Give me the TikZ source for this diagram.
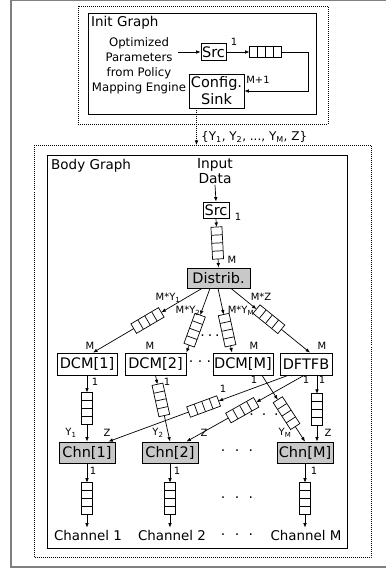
\documentclass[tikz,border=0pt]{standalone}
\usepackage{fontspec}
\setmainfont{DejaVu Sans}
\usetikzlibrary{calc,arrows.meta}
\definecolor{boxgray}{RGB}{200,200,200}
\definecolor{framegray}{RGB}{128,128,128}
\newcommand\fifo[4]{%
  \coordinate (qc) at ($(#1)!#3!(#2)$);
  \coordinate (qs) at ($(qc)!16pt!(#1)$);
  \coordinate (qe) at ($(qc)!16pt!(#2)$);
  \draw[qline] ($(qs)!5.5pt!90:(qe)$) -- ($(qs)!5.5pt!-90:(qe)$) -- ($(qe)!5.5pt!90:(qs)$) -- ($(qe)!5.5pt!-90:(qs)$) -- cycle;
  \foreach \t in {0.25,0.5,0.75}{
    \coordinate (qd) at ($(qs)!\t!(qe)$);
    \draw[qline] ($(qd)!5.5pt!90:(qe)$) -- ($(qd)!5.5pt!-90:(qe)$);
  }
  \draw[arr] (#1) -- (qs);
  \draw[#4] (qe) -- (#2);
}
\newcommand\tdots[1]{·\hspace{#1}·\hspace{#1}·}
\begin{document}
\begin{tikzpicture}[x=1pt,y=-1pt,
  box/.style={draw, line width=0.8pt, inner sep=0pt, font=\fontsize{14.5}{16}\selectfont},
  gbox/.style={box, fill=boxgray},
  arr/.style={-{Latex[length=4.5pt,width=3.6pt]}, line width=0.7pt},
  plain/.style={line width=0.7pt},
  qline/.style={line width=0.7pt, fill=white},
  lbl/.style={font=\fontsize{10}{11}\selectfont, inner sep=0pt},
  ttl/.style={font=\fontsize{13.5}{15}\selectfont, inner sep=0pt, anchor=west},
  dotbox/.style={line width=0.8pt, dash pattern=on 1pt off 1pt},
  graphbox/.style={line width=0.9pt},
  dts/.style={font=\fontsize{14}{15}\selectfont, inner sep=0pt}
]
\useasboundingbox (0,0) rectangle (385,569);
\fill[white] (0,0) rectangle (385,569);
% outer frame
\draw[framegray, line width=1.4pt] (11,0.7) rectangle (395,567);

% ---------- Init graph ----------
\draw[dotbox] (78,6) rectangle (328,124);
\draw[graphbox] (88,13) rectangle (316,114);
\node[ttl] (initt) at (91,23) {Init Graph};
\node[align=center, inner sep=0pt, font=\fontsize{11.7}{15}\selectfont] (opt) at (139,66)
  {Optimized\\Parameters\\from Policy\\Mapping Engine};
\node[box, minimum width=25pt, minimum height=17pt] (src1) at (213.5,52) {Src};
\node[box, minimum width=55pt, minimum height=34pt, align=center,
      font=\fontsize{14.5}{17}\selectfont] (cfg) at (216.5,91) {Config.\\Sink};
\coordinate (optout) at (178,52);
\draw[arr] (optout) -- (src1.west);
\coordinate (turn) at (308,52);
\fifo{src1.east}{turn}{0.48}{plain}
\draw[arr] (turn) |- (cfg.east);
\node[lbl] (l1a) at (234,42) {1};
\node[lbl] (lm1) at (258,80) {M+1};

% dotted parameter arrow
\coordinate (cfgout) at (196.5,108);
\coordinate (bodytop) at (196.5,145);
\draw[arr, dash pattern=on 1pt off 1pt] (cfgout) -- (bodytop);
\node[inner sep=0pt, anchor=west, font=\fontsize{12}{13}\selectfont] (params) at (201,137)
  {\{Y\textsubscript{1}, Y\textsubscript{2}, ..., Y\textsubscript{M}, Z\}};

% ---------- Body graph ----------
\draw[dotbox] (34,145.5) rectangle (371,557);
\draw[graphbox] (47,155) rectangle (347,548);
\node[ttl] (bodyt) at (51,166) {Body Graph};
\node[align=center, inner sep=1pt, font=\fontsize{13.8}{15}\selectfont] (indata) at (215,171) {Input\\Data};
\node[box, minimum width=26pt, minimum height=16pt] (src2) at (216,210) {Src};
\draw[arr] (indata.south) -- (src2.north);
\node[gbox, minimum width=63pt, minimum height=20pt] (dist) at (218.5,278) {Distrib.};
\fifo{src2.south}{dist.north}{0.5}{arr}
\node[lbl] (l1b) at (238,217) {1};
\node[lbl] (lmb) at (232,260) {M};

% second row
\node[box, minimum width=60pt, minimum height=22pt] (dcm1) at (87,364) {DCM[1]};
\node[box, minimum width=61pt, minimum height=22pt] (dcm2) at (155.5,364) {DCM[2]};
\node[box, minimum width=60pt, minimum height=22pt] (dcmm) at (243,364) {DCM[M]};
\node[box, minimum width=52pt, minimum height=22pt] (dft) at (306,364) {DFTFB};

\coordinate (d1) at ($(dist.south)+(-16.5,0)$);
\coordinate (d2) at ($(dist.south)+(-8.5,0)$);
\coordinate (d3) at ($(dist.south)+(-0.5,0)$);
\coordinate (d4) at ($(dist.south)+(12.5,0)$);
\coordinate (t1) at ($(dcm1.north)+(6,0)$);
\coordinate (t2) at ($(dcm2.north east)+(0,0)$);
\coordinate (t3) at ($(dcmm.north)+(-11,0)$);
\coordinate (t4) at ($(dft.north)+(4,0)$);
\fifo{d1}{t1}{0.5}{arr}
\fifo{d2}{t2}{0.65}{arr}
\fifo{d3}{t3}{0.65}{arr}
\fifo{d4}{t4}{0.48}{arr}
\node[lbl] (lmy1) at (168,298) {M*Y\textsubscript{1}};
\node[lbl] (lmy2) at (188,311) {M*Y\textsubscript{2}};
\node[lbl] (lmym) at (241,311) {M*Y\textsubscript{M}};
\node[lbl] (lmz) at (261,297) {M*Z};
\node[lbl] (lm1r) at (90,346) {M};
\node[lbl] (lm2r) at (150,346) {M};
\node[lbl] (lm3r) at (254,346) {M};
\node[lbl] (lm4r) at (322,346) {M};
\node[dts] (dots1) at (200,364) {\tdots{4.5pt}};
\node[dts] (dots2) at (210,338) {\tdots{3pt}};

% third row
\node[gbox, minimum width=56pt, minimum height=21pt] (chn1) at (87,452.5) {Chn[1]};
\node[gbox, minimum width=56pt, minimum height=21pt] (chn2) at (170,452.5) {Chn[2]};
\node[gbox, minimum width=56pt, minimum height=21pt] (chnm) at (305,452.5) {Chn[M]};

\coordinate (s3) at ($(dcmm.south)+(19,0)$);
\coordinate (s4) at ($(dft.south)+(11,0)$);
\coordinate (u4) at ($(chnm.north)+(12,0)$);
\coordinate (s5) at ($(dft.south)+(-18,0)$);
\coordinate (u5) at ($(chn1.north east)+(-7,0)$);
\coordinate (s6) at ($(dft.south)+(-2,0)$);
\coordinate (u6) at ($(chn2.north east)+(-12,0)$);
\fifo{s5}{u5}{0.47}{arr}
\fifo{s6}{u6}{0.525}{arr}
\fifo{dcm1.south}{chn1.north}{0.5}{arr}
\fifo{dcm2.south}{chn2.north}{0.37}{arr}
\fifo{s3}{chnm.north}{0.57}{arr}
\fifo{s4}{u4}{0.52}{arr}
\node[lbl] (l1c) at (95,382) {1};
\node[lbl] (l1d) at (167,382) {1};
\node[lbl] (l1e) at (254,380) {1};
\node[lbl] (l1f) at (306,380) {1};
\node[lbl] (l1g) at (322,380) {1};
\node[lbl] (l1h) at (223,389) {1};
\node[lbl] (ly1) at (71,433) {Y\textsubscript{1}};
\node[lbl] (lz1) at (107,433) {Z};
\node[lbl] (ly2) at (158,433) {Y\textsubscript{2}};
\node[lbl] (lz2) at (204,433) {Z};
\node[lbl] (lym) at (285,433) {Y\textsubscript{M}};
\node[lbl] (lzm) at (328,433) {Z};
\node[dts] (dots3) at (264,417) {\tdots{8pt}};
\node[dts] (dots4) at (237,453) {\tdots{9.5pt}};

% outputs
\node[inner sep=2pt, font=\fontsize{13.4}{15}\selectfont] (ch1) at (88,535) {Channel 1};
\node[inner sep=2pt, font=\fontsize{13.4}{15}\selectfont] (ch2) at (172,535) {Channel 2};
\node[inner sep=2pt, font=\fontsize{13.4}{15}\selectfont] (chm) at (306,535) {Channel M};
\coordinate (o1) at (chn1.south |- ch1.north);
\coordinate (o2) at (chn2.south |- ch2.north);
\coordinate (o3) at (chnm.south |- chm.north);
\fifo{chn1.south}{o1}{0.55}{arr}
\fifo{chn2.south}{o2}{0.55}{arr}
\fifo{chnm.south}{o3}{0.55}{arr}
\node[lbl] (l1i) at (93,471) {1};
\node[lbl] (l1j) at (177,471) {1};
\node[lbl] (l1k) at (314,471) {1};
\node[dts] (dots5) at (237,500) {\tdots{9.5pt}};
\node[dts] (dots6) at (237,537) {\tdots{9.5pt}};
\end{tikzpicture}
\end{document}
